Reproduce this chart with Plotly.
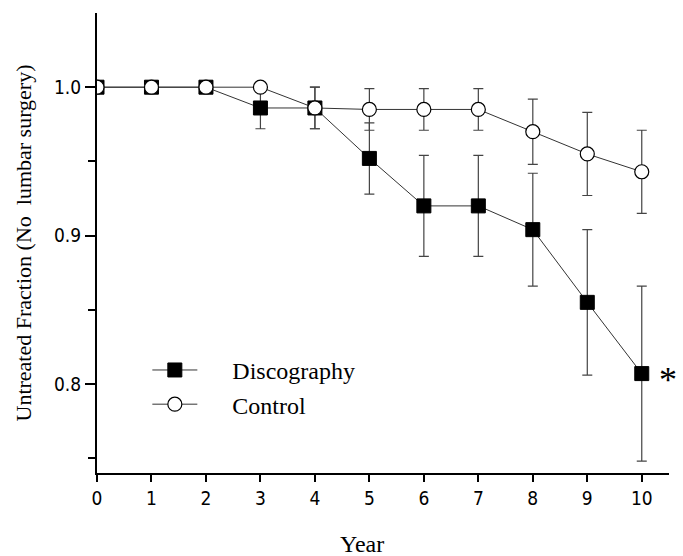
import plotly.graph_objects as go

years = [0, 1, 2, 3, 4, 5, 6, 7, 8, 9, 10]
disc = [1.0, 1.0, 1.0, 0.986, 0.986, 0.952, 0.920, 0.920, 0.904, 0.855, 0.807]
disc_err = [0, 0, 0, 0.014, 0.014, 0.024, 0.034, 0.034, 0.038, 0.049, 0.059]
ctrl = [1.0, 1.0, 1.0, 1.0, 0.986, 0.985, 0.985, 0.985, 0.970, 0.955, 0.943]
ctrl_err = [0, 0, 0, 0, 0.014, 0.014, 0.014, 0.014, 0.022, 0.028, 0.028]
y_ticks = [0.8, 0.9, 1.0]
y_tick_labels = ["0.8", "0.9", "1.0"]
y_minor = [0.75, 0.85, 0.95]
x_ticks = list(range(0, 11))

serif = "Liberation Serif, Times New Roman, serif"
narrow = "Liberation Sans Narrow, DejaVu Sans Condensed, Roboto Condensed, Arial Narrow, Liberation Sans, sans-serif"
pad = "\u00a0" * 5

fig = go.Figure()
fig.add_trace(go.Scatter(
    x=years, y=disc, name=pad + "Discography", mode="lines+markers",
    line=dict(color="#333333", width=1),
    marker=dict(symbol="square", size=14, color="black", line=dict(color="black", width=1)),
    error_y=dict(type="data", array=disc_err, visible=True, color="#444444", thickness=1.2, width=5),
))
fig.add_trace(go.Scatter(
    x=years, y=ctrl, name=pad + "Control", mode="lines+markers",
    line=dict(color="#333333", width=1),
    marker=dict(symbol="circle", size=14, color="white", line=dict(color="black", width=1.2)),
    error_y=dict(type="data", array=ctrl_err, visible=True, color="#444444", thickness=1.2, width=5),
))

fig.add_annotation(x=10, y=disc[-1], text="*", showarrow=False, xshift=26, yshift=-6,
                   font=dict(family=serif, size=36, color="black"))
fig.add_annotation(x=0.463, y=-0.155, xref="paper", yref="paper", text="Year", showarrow=False,
                   xanchor="center", yanchor="middle",
                   font=dict(family=serif, size=24, color="black"))

fig.update_layout(
    width=683, height=556,
    margin=dict(l=97, r=14, t=13, b=83),
    paper_bgcolor="white", plot_bgcolor="white",
    showlegend=True,
    legend=dict(x=0.088, y=0.272, xanchor="left", yanchor="top",
                font=dict(family=serif, size=24, color="black"),
                bgcolor="rgba(0,0,0,0)", itemwidth=45, tracegroupgap=0),
    xaxis=dict(range=[0, 10.5], tickvals=x_ticks, ticks="outside", ticklen=7, tickwidth=1.5,
               tickcolor="black", automargin=False,
               showline=True, linecolor="black", linewidth=2, showgrid=False, zeroline=False,
               tickfont=dict(family=narrow, size=19, color="black")),
    yaxis=dict(range=[0.74, 1.05], tickvals=y_ticks, ticktext=y_tick_labels, ticks="outside",
               ticklen=10, tickwidth=1.5, tickcolor="black", automargin=False,
               minor=dict(tickvals=y_minor, ticks="outside", ticklen=7, tickcolor="black"),
               showline=True, linecolor="black", linewidth=2, showgrid=False, zeroline=False,
               tickfont=dict(family=narrow, size=19, color="black"),
               title=dict(text="Untreated Fraction (No  lumbar surgery)",
                          font=dict(family=serif, size=22, color="black"), standoff=16)),
)

fig.write_html("out.html")
